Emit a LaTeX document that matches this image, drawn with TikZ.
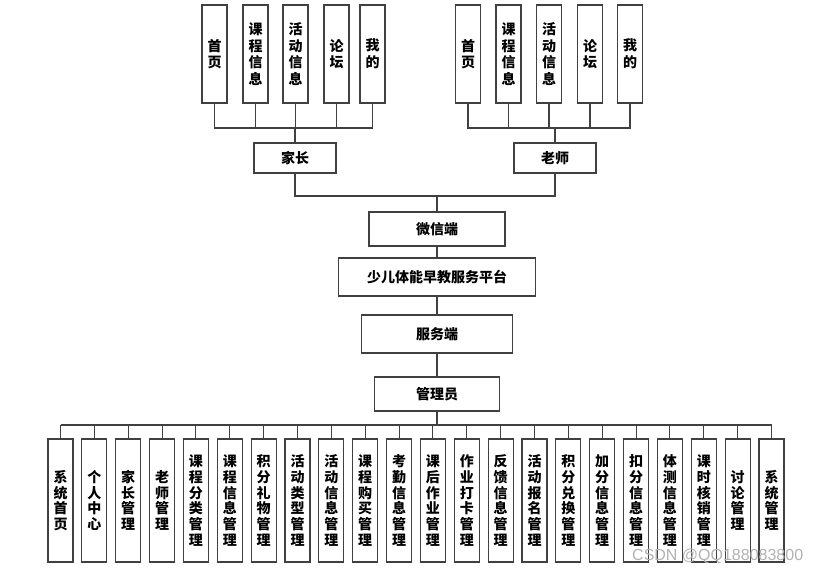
\documentclass[tikz,border=0pt]{standalone}
\usepackage{fontspec}
\newfontfamily\cjk{Noto Sans CJK SC}
\setsansfont{Liberation Sans}

\begin{document}
\begin{tikzpicture}[x=1pt,y=-1pt,
  box/.style={draw=black!75,line width=1.1pt,fill=white,inner sep=0pt,align=center,
    font=\cjk\bfseries\fontsize{14}{16.7}\selectfont},
  tall/.style={box,minimum width=25pt,minimum height=98pt},
  longbox/.style={box,minimum width=25pt,minimum height=123pt,
    font=\cjk\bfseries\fontsize{14}{15.7}\selectfont},
  wire/.style={draw=black!75,line width=1.1pt}]
\useasboundingbox (0,0) rectangle (820,574);

\foreach \x/\lbl [count=\i] in {214.5/首\\页,255.5/课\\程\\信\\息,295.5/活\\动\\信\\息,336.5/论\\坛,372.5/我\\的}
  \node[tall] (p\i) at (\x,54) {\lbl};
\foreach \x/\lbl [count=\i] in {468/首\\页,508.5/课\\程\\信\\息,549/活\\动\\信\\息,590/论\\坛,630/我\\的}
  \node[tall] (t\i) at (\x,54) {\lbl};

\node[box,minimum width=82pt,minimum height=30pt] (parent) at (295,158) {家长};
\node[box,minimum width=82pt,minimum height=30pt] (teacher) at (555,158) {老师};
\node[box,minimum width=136pt,minimum height=34pt] (wechat) at (437,229) {微信端};
\node[box,minimum width=197pt,minimum height=38pt] (platform) at (437,277) {少儿体能早教服务平台};
\node[box,minimum width=151pt,minimum height=38pt] (server) at (437,334) {服务端};
\node[box,minimum width=125pt,minimum height=34pt] (admin) at (437,394) {管理员};

\foreach \lbl [count=\i from 1] in {系\\统\\首\\页,个\\人\\中\\心,家\\长\\管\\理,老\\师\\管\\理,
  课\\程\\分\\类\\管\\理,课\\程\\信\\息\\管\\理,积\\分\\礼\\物\\管\\理,活\\动\\类\\型\\管\\理,
  活\\动\\信\\息\\管\\理,课\\程\\购\\买\\管\\理,考\\勤\\信\\息\\管\\理,课\\后\\作\\业\\管\\理,
  作\\业\\打\\卡\\管\\理,反\\馈\\信\\息\\管\\理,活\\动\\报\\名\\管\\理,积\\分\\兑\\换\\管\\理,
  加\\分\\信\\息\\管\\理,扣\\分\\信\\息\\管\\理,体\\测\\信\\息\\管\\理,课\\时\\核\\销\\管\\理,
  讨\\论\\管\\理,系\\统\\管\\理}
  \node[longbox] (m\i) at ({60.5+33.857*(\i-1)},500.5) {\lbl};

\coordinate (pbus) at (0,128);
\coordinate (join) at (437,196);
\coordinate (mbus) at (0,425);

\draw[wire] (p1.south) -- (p1.south |- pbus) -- (p5.south |- pbus) -- (p5.south);
\foreach \i in {2,3,4}
  \draw[wire] (p\i.south) -- (p\i.south |- pbus);
\draw[wire] (parent.north) -- (parent.north |- pbus);
\draw[wire] (t1.south) -- (t1.south |- pbus) -- (t5.south |- pbus) -- (t5.south);
\foreach \i in {2,3,4}
  \draw[wire] (t\i.south) -- (t\i.south |- pbus);
\draw[wire] (teacher.north) -- (teacher.north |- pbus);

\draw[wire] (parent.south) |- (teacher.south |- join) -- (teacher.south);
\draw[wire] (wechat.north) -- (wechat.north |- join);
\draw[wire] (wechat) -- (platform);
\draw[wire] (platform) -- (server);
\draw[wire] (server) -- (admin);

\draw[wire] (m1.north |- mbus) -- (m22.north |- mbus);
\foreach \i in {1,...,22}
  \draw[wire] (m\i.north) -- (m\i.north |- mbus);
\draw[wire] (admin.south) -- (admin.south |- mbus);

\node[text=black!30,font=\sffamily\fontsize{16}{16}\selectfont,anchor=base west,inner sep=0pt] (mark) at (632,560) {CSDN @QQ188083800};
\end{tikzpicture}
\end{document}
